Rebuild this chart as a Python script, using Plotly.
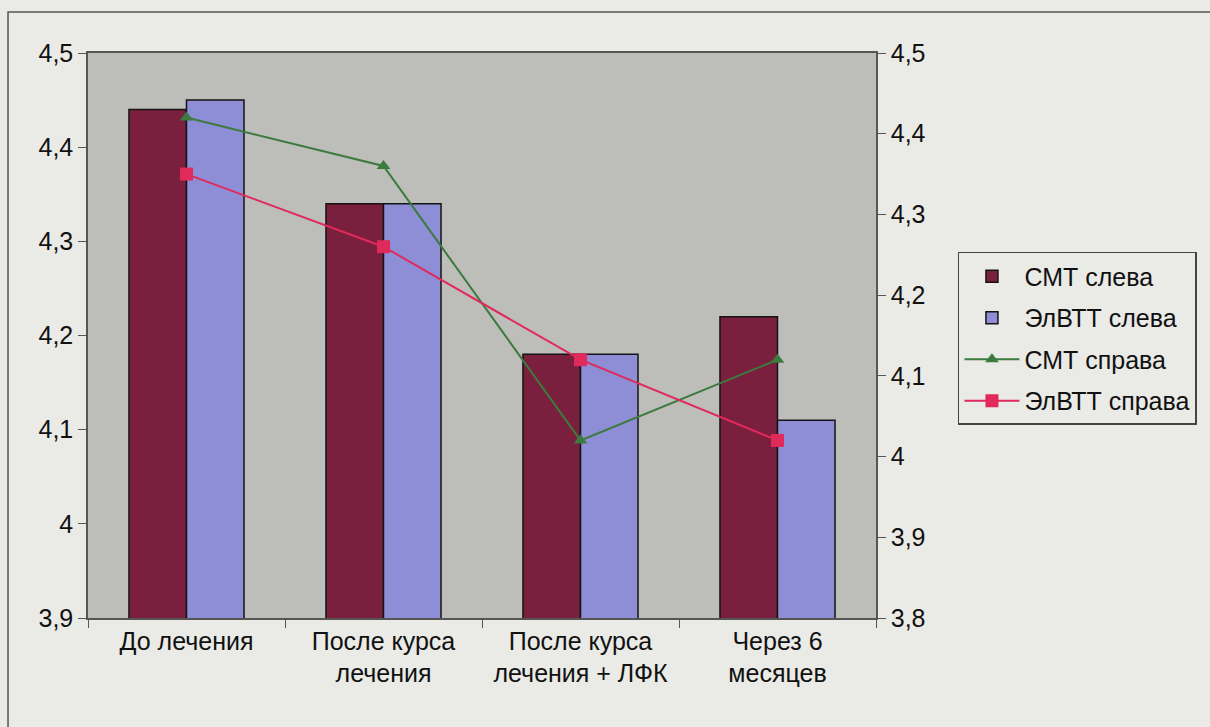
import plotly.graph_objects as go

# Categories (two-line labels) and series values
categories = ["До лечения", "После курса<br>лечения", "После курса<br>лечения + ЛФК", "Через 6<br>месяцев"]
smt_left = [4.44, 4.34, 4.18, 4.22]
elvtt_left = [4.45, 4.34, 4.18, 4.11]
smt_right = [4.42, 4.36, 4.02, 4.12]
elvtt_right = [4.35, 4.26, 4.12, 4.02]

left_ticks = [3.9, 4.0, 4.1, 4.2, 4.3, 4.4, 4.5]
left_labels = ["3,9", "4", "4,1", "4,2", "4,3", "4,4", "4,5"]
right_ticks = [3.8, 3.9, 4.0, 4.1, 4.2, 4.3, 4.4, 4.5]
right_labels = ["3,8", "3,9", "4", "4,1", "4,2", "4,3", "4,4", "4,5"]

FONT = "Liberation Sans, Arial, sans-serif"
TXT = "#111111"

fig = go.Figure()
fig.add_trace(go.Bar(
    x=categories, y=smt_left, name="СМТ слева", legendgroup="a",
    marker=dict(color="#7a1f3d", line=dict(color="#141414", width=1.5)),
))
fig.add_trace(go.Bar(
    x=categories, y=elvtt_left, name="ЭлВТТ слева", legendgroup="b",
    marker=dict(color="#8e8ed6", line=dict(color="#141414", width=1.5)),
))
fig.add_trace(go.Scatter(
    x=categories, y=smt_right, name="СМТ справа", yaxis="y2", legendgroup="c",
    mode="lines+markers",
    line=dict(color="#3c7a3e", width=2),
    marker=dict(symbol="triangle-up", size=12, color="#3c7a3e"),
))
fig.add_trace(go.Scatter(
    x=categories, y=elvtt_right, name="ЭлВТТ справа", yaxis="y2", legendgroup="d",
    mode="lines+markers",
    line=dict(color="#e02a5c", width=2),
    marker=dict(symbol="square", size=13, color="#e02a5c"),
))

fig.update_layout(
    width=1210, height=727,
    margin=dict(l=88, r=334, t=53, b=109),
    paper_bgcolor="#eaeae6",
    plot_bgcolor="#bdbdba",
    barmode="group",
    bargap=0.416,
    bargroupgap=0,
    font=dict(family=FONT, size=25, color=TXT),
    xaxis=dict(
        type="category",
        tickson="boundaries",
        ticks="outside", ticklen=8, tickcolor="#555",
        showline=True, linecolor="#555", linewidth=1.5, mirror=True,
        showgrid=False,
        tickfont=dict(size=25, color=TXT),
    ),
    yaxis=dict(
        range=[3.9, 4.5],
        tickvals=left_ticks, ticktext=left_labels,
        ticks="outside", ticklen=8, tickcolor="#555",
        showline=True, linecolor="#555", linewidth=1.5,
        showgrid=False, zeroline=False,
        tickfont=dict(size=25, color=TXT),
    ),
    yaxis2=dict(
        range=[3.8, 4.5],
        overlaying="y", side="right",
        tickvals=right_ticks, ticktext=right_labels,
        ticks="outside", ticklen=8, tickcolor="#555",
        showline=True, linecolor="#555", linewidth=1.5,
        showgrid=False, zeroline=False,
        tickfont=dict(size=25, color=TXT),
    ),
    legend=dict(
        x=1.104, y=0.648, xanchor="left", yanchor="top",
        bgcolor="rgba(0,0,0,0)",
        bordercolor="#444", borderwidth=1.5,
        font=dict(size=25, color=TXT),
        tracegroupgap=6,
        itemwidth=55,
        traceorder="grouped",
    ),
    showlegend=True,
    shapes=[
        # outer chart frame
        dict(type="rect", xref="paper", yref="paper",
             x0=-0.1015, x1=1.6, y0=-0.4, y1=1.0726,
             line=dict(color="#555", width=1.5), fillcolor="rgba(0,0,0,0)",
             layer="below"),
    ],
)

fig.write_html("out.html")
